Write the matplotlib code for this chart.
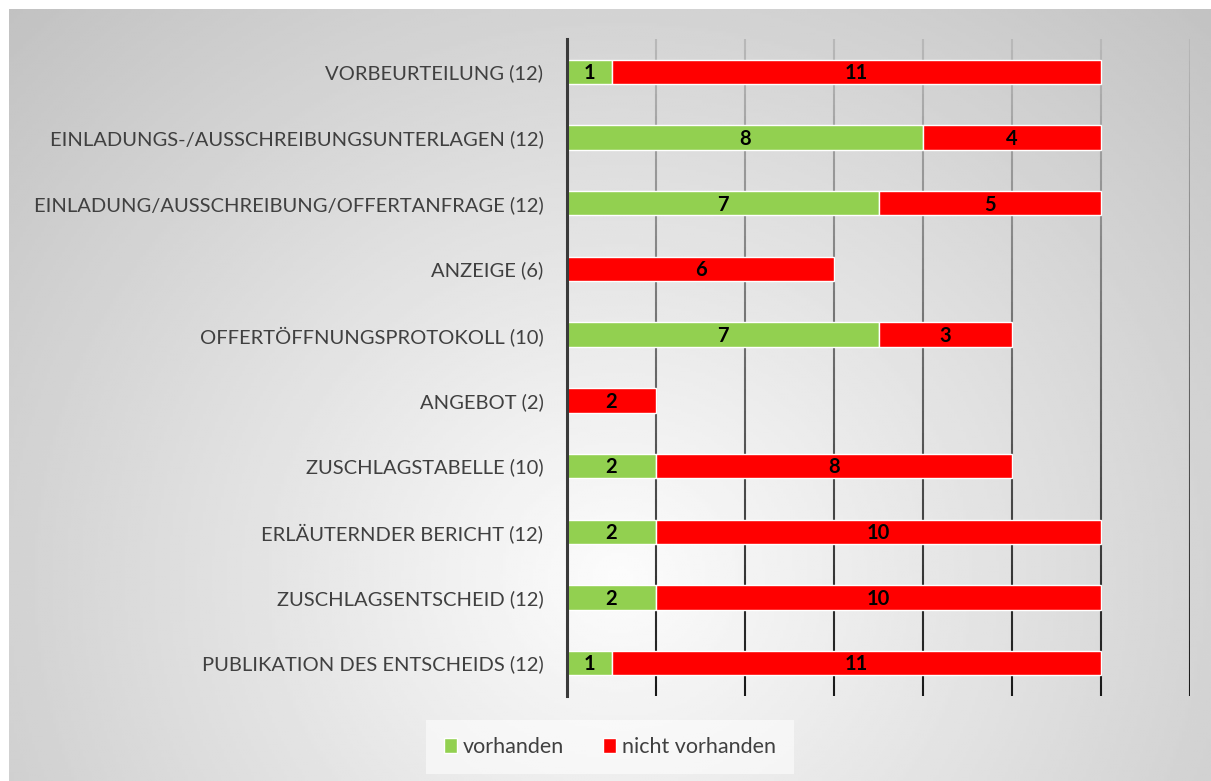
import numpy as np
import matplotlib
matplotlib.use('Agg')
import matplotlib.pyplot as plt
from matplotlib.collections import LineCollection

plt.rcParams['font.family'] = ['Lato', 'DejaVu Sans']

# data, top to bottom as in the chart
categories = ['VORBEURTEILUNG (12)',
              'EINLADUNGS-/AUSSCHREIBUNGSUNTERLAGEN (12)',
              'EINLADUNG/AUSSCHREIBUNG/OFFERTANFRAGE (12)',
              'ANZEIGE (6)',
              'OFFERTÖFFNUNGSPROTOKOLL (10)',
              'ANGEBOT (2)',
              'ZUSCHLAGSTABELLE (10)',
              'ERLÄUTERNDER BERICHT (12)',
              'ZUSCHLAGSENTSCHEID (12)',
              'PUBLIKATION DES ENTSCHEIDS (12)']
vorhanden = [1, 8, 7, 0, 7, 0, 2, 2, 2, 1]
nicht_vorhanden = [11, 4, 5, 6, 3, 2, 8, 10, 10, 11]
series_names = ['vorhanden', 'nicht vorhanden']
colors = ['#92D050', '#FF0000']
text_col = '#404040'

W, H = 1211, 781
fig = plt.figure(figsize=(W / 100, H / 100), dpi=100)
fig.patch.set_facecolor('white')

# radial grey background
bg = fig.add_axes([9 / W, 0, 1 - 9 / W, 1 - 9 / H], zorder=0)
xx, yy = np.meshgrid(np.linspace(9, W, 400), np.linspace(9, H, 300))
d = np.sqrt(((xx - 620) / 1.0) ** 2 + ((yy - 580) / 0.95) ** 2)
img = np.clip(252 - d * 0.068, 185, 252) / 255
bg.imshow(img, cmap='gray', vmin=0, vmax=1, extent=[0, 1, 0, 1], aspect='auto', interpolation='bilinear')
bg.axis('off')

ax = fig.add_axes([567 / W, 1 - 696 / H, (1190 - 567) / W, (696 - 39) / H], zorder=1)
ax.patch.set_alpha(0)

y = np.arange(len(categories))
bars1 = ax.barh(y, vorhanden, height=0.37, color=colors[0], edgecolor='white', linewidth=1, label=series_names[0], zorder=3)
bars2 = ax.barh(y, nicht_vorhanden, left=vorhanden, height=0.37, color=colors[1], edgecolor='white', linewidth=1, label=series_names[1], zorder=3)

for bars in (bars1, bars2):
    for b in bars:
        w = b.get_width()
        if w > 0:
            ax.text(b.get_x() + w / 2, b.get_y() + b.get_height() / 2 + 0.02, str(int(w)),
                    ha='center', va='center', fontsize=14.5, fontweight='bold', color='black', zorder=4)

ax.set_xlim(0, 14)
ax.set_ylim(len(categories) - 0.5, -0.5)
ax.set_yticks(y)
ax.set_yticklabels(categories, fontsize=14.5, color=text_col)
ax.tick_params(axis='y', length=0, pad=17)
ax.set_xticks([])

# vertical gridlines, lighter at the top, darker at the bottom
n = 60
ys = np.linspace(-0.5, len(categories) - 0.5, n + 1)
segs, cols = [], []
for gx in range(2, 15, 2):
    for i in range(n):
        segs.append([(gx, ys[i]), (gx, ys[i + 1])])
        t = i / (n - 1)
        g = 0.72 - 0.62 * t
        cols.append((g, g, g))
ax.add_collection(LineCollection(segs, colors=cols, linewidths=1.5, zorder=2))

for s in ['top', 'right', 'bottom']:
    ax.spines[s].set_visible(False)
ax.spines['left'].set_color('#3a3a3a')
ax.spines['left'].set_linewidth(2.2)
ax.spines['left'].set_zorder(5)

leg = fig.legend(loc='center', bbox_to_anchor=(610 / W, 1 - 747 / H), ncol=2, frameon=True,
                 fontsize=15.5, handlelength=0.6, handleheight=0.7, handletextpad=0.3,
                 columnspacing=1.8, borderpad=0.8, fancybox=False)
leg.get_frame().set_facecolor('white')
leg.get_frame().set_alpha(0.55)
leg.get_frame().set_linewidth(0)
for t in leg.get_texts():
    t.set_color(text_col)

fig.savefig('out.png', dpi=100)
